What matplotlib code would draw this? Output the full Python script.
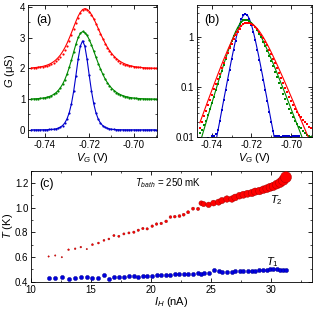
import numpy as np
import matplotlib
matplotlib.use("Agg")
import matplotlib.pyplot as plt
from matplotlib.ticker import MultipleLocator, LogLocator, NullFormatter

plt.rcParams['font.family'] = ['Liberation Sans', 'DejaVu Sans']
plt.rcParams['mathtext.fontset'] = 'custom'
plt.rcParams['mathtext.it'] = 'Liberation Sans:italic'
plt.rcParams['mathtext.rm'] = 'Liberation Sans'

# gate voltage sweep (V), 1 mV steps
vg = [-0.746, -0.745, -0.744, -0.743, -0.742, -0.741, -0.740, -0.739, -0.738, -0.737,
      -0.736, -0.735, -0.734, -0.733, -0.732, -0.731, -0.730, -0.729, -0.728, -0.727,
      -0.726, -0.725, -0.724, -0.723, -0.722, -0.721, -0.720, -0.719, -0.718, -0.717,
      -0.716, -0.715, -0.714, -0.713, -0.712, -0.711, -0.710, -0.709, -0.708, -0.707,
      -0.706, -0.705, -0.704, -0.703, -0.702, -0.701, -0.700, -0.699, -0.698, -0.697,
      -0.696, -0.695, -0.694, -0.693, -0.692, -0.691, -0.690]

# measured conductance (uS)
g_blue = [0.009, 0.008, 0.009, 0.008, 0.0095, 0.0085, 0.0105, 0.0105, 0.0115, 0.014,
          0.021, 0.034, 0.055, 0.088, 0.14, 0.22, 0.36, 0.56, 0.85, 1.26,
          1.77, 2.30, 2.73, 2.90, 2.74, 2.31, 1.78, 1.27, 0.86, 0.56,
          0.355, 0.22, 0.138, 0.085, 0.052, 0.032, 0.020, 0.013, 0.0105, 0.0102,
          0.0104, 0.0101, 0.0103, 0.0105, 0.0102, 0.0104, 0.0101, 0.0106, 0.0102, 0.0103,
          0.0105, 0.009, 0.008, 0.009, 0.008, 0.009, 0.008]
g_green = [0.012, 0.014, 0.017, 0.021, 0.027, 0.036, 0.048, 0.064, 0.086, 0.115,
           0.156, 0.21, 0.28, 0.37, 0.49, 0.64, 0.82, 1.04, 1.28, 1.55,
           1.80, 2.01, 2.16, 2.21, 2.17, 2.08, 1.93, 1.76, 1.56, 1.36,
           1.16, 0.98, 0.81, 0.66, 0.53, 0.42, 0.33, 0.26, 0.20, 0.155,
           0.12, 0.094, 0.074, 0.058, 0.046, 0.037, 0.030, 0.025, 0.021, 0.018,
           0.016, 0.015, 0.013, 0.012, 0.011, 0.0105, 0.010]
g_red = [0.015, 0.020, 0.026, 0.033, 0.044, 0.054, 0.070, 0.089, 0.115, 0.145,
         0.185, 0.235, 0.30, 0.375, 0.47, 0.59, 0.74, 0.90, 1.08, 1.27,
         1.47, 1.66, 1.81, 1.91, 1.95, 1.92, 1.85, 1.74, 1.60, 1.44,
         1.28, 1.11, 0.96, 0.81, 0.68, 0.56, 0.46, 0.37, 0.30, 0.24,
         0.19, 0.152, 0.121, 0.097, 0.079, 0.064, 0.053, 0.044, 0.037, 0.032,
         0.028, 0.025, 0.022, 0.020, 0.018, 0.016, 0.015]

# fitted curves on the same grid
fit_blue = [0.00015, 0.00025, 0.0004, 0.0007, 0.0011, 0.0018, 0.0029, 0.0047, 0.0077, 0.0126,
            0.0203, 0.0331, 0.054, 0.087, 0.141, 0.225, 0.358, 0.558, 0.856, 1.264,
            1.770, 2.303, 2.733, 2.90, 2.733, 2.303, 1.770, 1.264, 0.856, 0.558,
            0.358, 0.225, 0.141, 0.087, 0.054, 0.0331, 0.0203, 0.0126, 0.0077, 0.0047,
            0.0029, 0.0018, 0.0011, 0.0007, 0.0004, 0.00025, 0.00015, 0.0001, 0.0001, 0.0001,
            0.0001, 0.0001, 0.0001, 0.0001, 0.0001, 0.0001, 0.0001]
fit_green = [0.0074, 0.0101, 0.0137, 0.0186, 0.0253, 0.0344, 0.0466, 0.0630, 0.0853, 0.1154,
             0.1555, 0.2085, 0.280, 0.371, 0.487, 0.635, 0.818, 1.036, 1.281, 1.540,
             1.791, 2.004, 2.149, 2.20, 2.169, 2.080, 1.942, 1.768, 1.574, 1.372,
             1.176, 0.994, 0.826, 0.679, 0.555, 0.450, 0.364, 0.293, 0.234, 0.187,
             0.148, 0.1175, 0.0932, 0.0741, 0.0584, 0.0462, 0.0365, 0.0288, 0.0228, 0.0179,
             0.0142, 0.0112, 0.0088, 0.0070, 0.0055, 0.0043, 0.0034]
fit_red = [0.0192, 0.0246, 0.0316, 0.0405, 0.0520, 0.0663, 0.0848, 0.1086, 0.138, 0.176,
           0.222, 0.281, 0.353, 0.438, 0.547, 0.673, 0.819, 0.985, 1.164, 1.351,
           1.534, 1.700, 1.833, 1.920, 1.95, 1.927, 1.861, 1.757, 1.623, 1.471,
           1.309, 1.144, 0.991, 0.845, 0.713, 0.597, 0.497, 0.410, 0.337, 0.277,
           0.226, 0.184, 0.150, 0.1215, 0.0983, 0.0796, 0.0643, 0.0519, 0.0418, 0.0337,
           0.0272, 0.0219, 0.0176, 0.0142, 0.0114, 0.0092, 0.0074]

offsets = [0, 1, 2]

# panel (c): heater current (nA) and temperatures (K)
i_h = [11.47, 12.02, 12.57, 13.13, 13.68, 14.15, 14.65, 15.12, 15.62, 16.08,
       16.49, 16.91, 17.32, 17.74, 18.16, 18.57, 18.94, 19.32, 19.68, 20.10,
       20.46, 20.85, 21.26, 21.62, 21.98, 22.37, 22.72, 23.09, 23.50, 23.92,
       24.19, 24.38, 24.80, 25.21, 25.63, 25.91, 26.32, 26.74, 27.01, 27.37,
       27.70, 28.04, 28.40, 28.67, 29.03, 29.36, 29.64, 29.92, 30.19, 30.47,
       30.75, 31.02, 31.24]
t2 = [0.603, 0.611, 0.597, 0.658, 0.666, 0.679, 0.663, 0.699, 0.712, 0.734,
      0.745, 0.773, 0.767, 0.786, 0.794, 0.800, 0.816, 0.830, 0.827, 0.849,
      0.866, 0.871, 0.888, 0.923, 0.926, 0.931, 0.942, 0.962, 0.991, 0.989,
      1.035, 1.028, 1.022, 1.036, 1.044, 1.057, 1.069, 1.069, 1.082, 1.096,
      1.104, 1.112, 1.118, 1.129, 1.134, 1.145, 1.153, 1.164, 1.172, 1.186,
      1.200, 1.221, 1.246]
t1 = [0.428, 0.430, 0.433, 0.420, 0.428, 0.438, 0.436, 0.432, 0.428, 0.449,
      0.424, 0.436, 0.438, 0.440, 0.442, 0.442, 0.440, 0.444, 0.446, 0.448,
      0.456, 0.454, 0.452, 0.456, 0.458, 0.457, 0.460, 0.462, 0.460, 0.465,
      0.462, 0.465, 0.470, 0.495, 0.482, 0.478, 0.480, 0.480, 0.483, 0.485,
      0.486, 0.487, 0.485, 0.488, 0.492, 0.494, 0.497, 0.498, 0.499, 0.498,
      0.497, 0.497, 0.497]
# marker size of the T2 points grows along the sweep
t2_size = [1, 1, 1, 1.5, 1.5, 1.5, 1, 2, 2, 2,
           2, 2.5, 2.5, 2.5, 2.5, 3, 3, 3, 3, 3.5,
           3.5, 3.5, 4, 4, 4, 4.5, 4.5, 5, 5, 5.5,
           12, 14, 16, 18, 20, 20, 22, 22, 24, 24,
           26, 26, 28, 28, 30, 30, 32, 34, 36, 40,
           44, 52, 64]

colors = ['#0000cc', '#008800', '#ff0000']

fig = plt.figure(figsize=(3.16, 3.09), dpi=100)
ax_a = fig.add_axes([0.089, 0.557, 0.408, 0.427])
ax_b = fig.add_axes([0.623, 0.557, 0.364, 0.427])
ax_c = fig.add_axes([0.098, 0.087, 0.889, 0.361])

series = [g_blue, g_green, g_red]
fits = [fit_blue, fit_green, fit_red]

for k in range(3):
    ya = np.array(series[k]) + offsets[k]
    fa = np.array(fits[k]) + offsets[k]
    ax_a.plot(vg, fa, color=colors[k], lw=0.8)
    ax_a.plot(vg, ya, 'o', color=colors[k], ms=1.6, mew=0)
    ax_b.plot(vg, fits[k], color=colors[k], lw=0.8)
    ax_b.plot(vg, series[k], 's', color=colors[k], ms=2.0, mew=0)

for ax in (ax_a, ax_b):
    ax.set_xlim(-0.7475, -0.6895)
    ax.xaxis.set_minor_locator(MultipleLocator(0.01))
    ax.set_xticks([-0.74, -0.72, -0.70])
    ax.set_xticklabels(['-0.74', '-0.72', '-0.70'])
    ax.set_xlabel('$V_G$ (V)', fontsize=8, labelpad=1)

ax_a.set_ylim(-0.23, 4.07)
ax_a.yaxis.set_major_locator(MultipleLocator(1))
ax_a.yaxis.set_minor_locator(MultipleLocator(0.5))
ax_a.set_ylabel('$G$ (μS)', fontsize=8, labelpad=2)

ax_b.set_yscale('log')
ax_b.set_ylim(0.01, 4.4)
ax_b.set_yticks([0.01, 0.1, 1])
ax_b.set_yticklabels(['0.01', '0.1', '1'])
ax_b.yaxis.set_minor_locator(LogLocator(base=10, subs=np.arange(2, 10)))
ax_b.yaxis.set_minor_formatter(NullFormatter())

ax_a.text(0.06, 0.93, '(a)', transform=ax_a.transAxes, fontsize=9, va='top')
ax_b.text(0.06, 0.93, '(b)', transform=ax_b.transAxes, fontsize=9, va='top')

ax_c.scatter(i_h, t2, s=t2_size, color='#ff0000', edgecolors='#990000', linewidths=0.3, zorder=3)
ax_c.scatter(i_h, t1, s=9, color='#0000dd', edgecolors='#000088', linewidths=0.3, zorder=3)
ax_c.set_xlim(10, 33.4)
ax_c.set_ylim(0.395, 1.3)
ax_c.xaxis.set_major_locator(MultipleLocator(5))
ax_c.xaxis.set_minor_locator(MultipleLocator(2.5))
ax_c.yaxis.set_major_locator(MultipleLocator(0.2))
ax_c.yaxis.set_minor_locator(MultipleLocator(0.1))
ax_c.set_xlabel('$I_H$ (nA)', fontsize=8, labelpad=0)
ax_c.set_ylabel('$T$ (K)', fontsize=8, labelpad=0)
ax_c.text(0.03, 0.93, '(c)', transform=ax_c.transAxes, fontsize=9, va='top')
ax_c.text(21.4, 1.2, '$T_{bath}$ = 250 mK', fontsize=7, ha='center', va='center')
ax_c.text(29.9, 1.06, '$T_2$', fontsize=8, ha='left', va='center')
ax_c.text(29.6, 0.56, '$T_1$', fontsize=8, ha='left', va='center')

for ax in (ax_a, ax_b, ax_c):
    ax.tick_params(which='both', direction='in', top=True, right=True, labelsize=7, pad=2)
    ax.tick_params(which='major', length=3, width=0.6)
    ax.tick_params(which='minor', length=1.5, width=0.5)
    for sp in ax.spines.values():
        sp.set_linewidth(0.6)

fig.savefig('out.png', dpi=100)
